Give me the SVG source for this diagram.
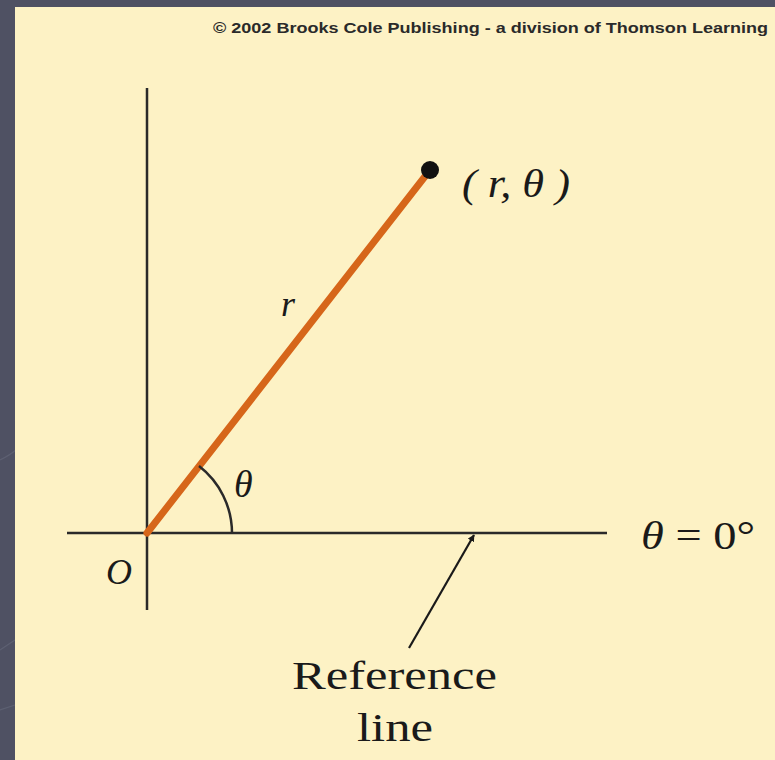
<svg xmlns="http://www.w3.org/2000/svg" width="775" height="760" viewBox="0 0 775 760">
<style>
.ax{stroke:#2a2a2a;stroke-width:2.5;fill:none}
.m{font-family:"Liberation Serif","DejaVu Serif",serif;font-style:italic;fill:#1a1a1a}
.t{font-family:"Liberation Serif","DejaVu Serif",serif;fill:#1a1a1a}
</style>
<defs>
<marker id="ah" viewBox="0 0 10 10" refX="9" refY="5" markerWidth="7" markerHeight="7" orient="auto" markerUnits="userSpaceOnUse">
<path d="M0,0 L10,5 L0,10 Z" fill="#1a1a1a"/>
</marker>
</defs>
<rect width="775" height="760" fill="#4f5163"/>
<g stroke="#5d6072" stroke-width="1.2" fill="none">
<path d="M0,460 Q40,440 15,420"/>
<path d="M0,650 L15,640"/>
<path d="M0,710 L15,705"/>
</g>
<rect x="15" y="7" width="760" height="753" fill="#fdf2c5"/>
<text x="213" y="33" textLength="555" lengthAdjust="spacingAndGlyphs" font-family="Liberation Sans, Arial, sans-serif" font-weight="bold" font-size="15" fill="#2a2a2a">© 2002 Brooks Cole Publishing - a division of Thomson Learning</text>
<g id="axes">
<line class="ax" x1="147" y1="88" x2="147" y2="610"/>
<line class="ax" x1="67" y1="533" x2="607" y2="533"/>
</g>
<g id="connectors">
<line x1="147" y1="533" x2="430" y2="170" stroke="#d6661a" stroke-width="7" stroke-linecap="round"/>
<path d="M199,466 A85,85 0 0 1 232,533" class="ax" stroke-width="2"/>
<line x1="409" y1="648" x2="474" y2="535" stroke="#1a1a1a" stroke-width="2.2" marker-end="url(#ah)"/>
</g>
<g id="point">
<circle cx="430" cy="170" r="9" fill="#111"/>
<text class="m" x="462" y="197" font-size="41" textLength="108" lengthAdjust="spacingAndGlyphs">( r, θ )</text>
</g>
<g id="labels">
<text class="m" x="281" y="316" font-size="36">r</text>
<text class="m" x="234" y="497" font-size="38">θ</text>
<text class="m" x="106" y="584" font-size="36">O</text>
<text class="m" x="641" y="549" font-size="41" textLength="114" lengthAdjust="spacingAndGlyphs">θ<tspan font-style="normal"> = 0°</tspan></text>
</g>
<g id="reference">
<text class="t" x="292" y="689" font-size="40" textLength="205" lengthAdjust="spacingAndGlyphs">Reference</text>
<text class="t" x="357" y="741" font-size="40" textLength="76" lengthAdjust="spacingAndGlyphs">line</text>
</g>
</svg>
